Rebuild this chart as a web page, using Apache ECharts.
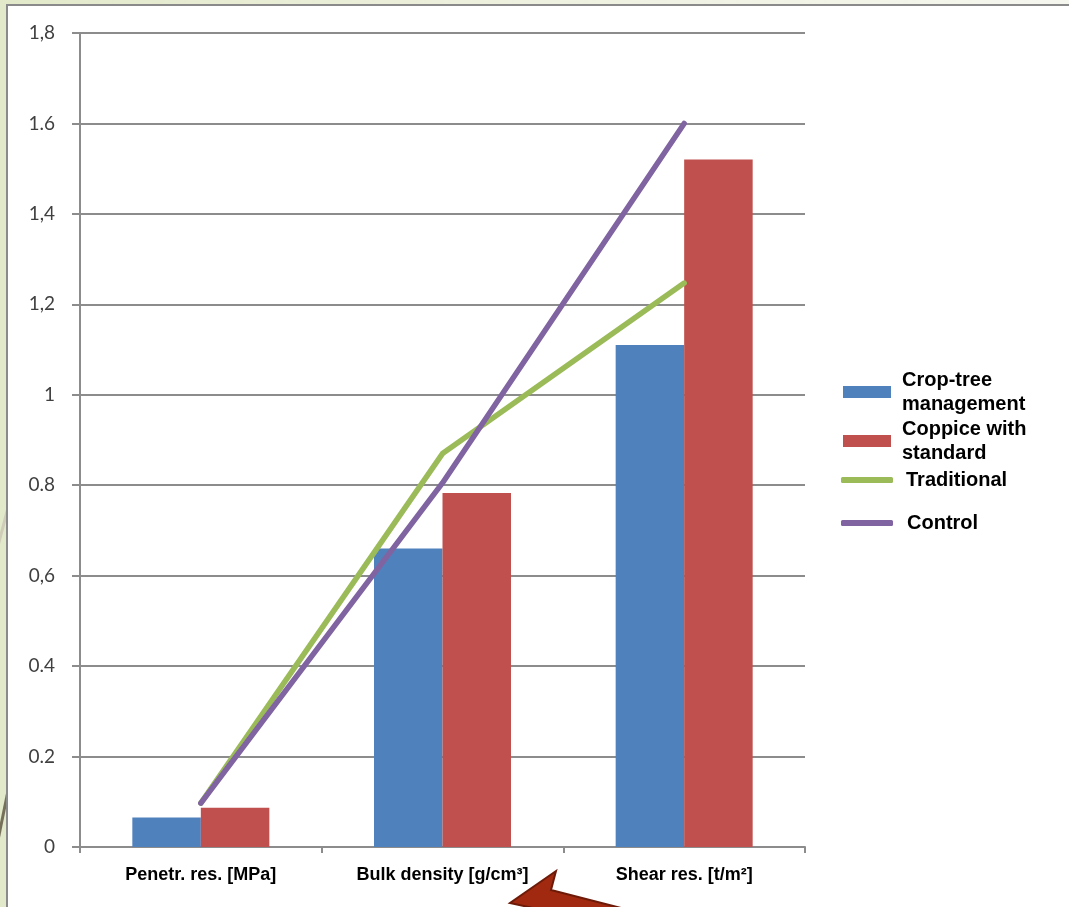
<!DOCTYPE html>
<html>
<head>
<meta charset="utf-8">
<script src="https://cdn.jsdelivr.net/npm/echarts@6/dist/echarts.min.js"></script>
<style>
html,body{margin:0;padding:0;background:#e3e9cc;}
#chart{width:1069px;height:907px;}
</style>
</head>
<body>
<div id="chart"></div>
<script>
const categories = ['Penetr. res. [MPa]', 'Bulk density [g/cm\u00b3]', 'Shear res. [t/m\u00b2]'];
const cropTree = [0.065, 0.66, 1.11];
const coppice = [0.087, 0.783, 1.52];
const traditional = [0.097, 0.87, 1.247];
const control = [0.097, 0.805, 1.6];
const yTickLabels = ['0', '0.2', '0.4', '0,6', '0.8', '1', '1,2', '1,4', '1.6', '1,8'];
const seriesNames = ['Crop-tree management', 'Coppice with standard', 'Traditional', 'Control'];
const legendLabels = {
  'Crop-tree management': 'Crop-tree\nmanagement',
  'Coppice with standard': 'Coppice with\nstandard',
  'Traditional': 'Traditional',
  'Control': 'Control'
};

const chart = echarts.init(document.getElementById('chart'), null, {renderer: 'canvas'});
const gridColor = '#8c8c8c';

function mkLegend(name, left, top, w, h, pad, icon) {
  const lg = {
    data: [{name: name, icon: icon}], orient: 'vertical', left: left, top: top,
    itemWidth: w, itemHeight: h, itemGap: 0, padding: 0,
    selectedMode: false,
    formatter: n => legendLabels[n],
    textStyle: {color: '#000', fontFamily: 'Liberation Sans, Arial, sans-serif', fontWeight: 'bold',
      fontSize: 20, lineHeight: 24, padding: [0, 0, 0, pad]}
  };
  return lg;
}

const option = {
  backgroundColor: {
    type: 'linear', x: 0, y: 0, x2: 1, y2: 0,
    colorStops: [{offset: 0, color: '#e2e9ca'}, {offset: 0.5, color: '#eef1df'}, {offset: 1, color: '#f5f6ee'}]
  },
  animation: false,
  graphic: [
    {type: 'line', z: -20, shape: {x1: 9, y1: 786, x2: -2, y2: 840}, style: {stroke: '#76705a', lineWidth: 3}},
    {type: 'line', z: -20, shape: {x1: 9, y1: 504, x2: -2, y2: 546}, style: {stroke: '#cfcdb8', lineWidth: 3}},
    {type: 'rect', z: -10, shape: {x: 7, y: 5, width: 1080, height: 920}, style: {fill: '#ffffff', stroke: '#8a8a8a', lineWidth: 2}},
    {type: 'polygon', z: 100, shape: {points: [[556, 871], [551, 890], [660, 918], [600, 930], [533, 908], [510, 903]]},
     style: {fill: '#a1290f', stroke: '#6e1a08', lineWidth: 2}}
  ],
  grid: {left: 80, right: 264, top: 33, bottom: 60, containLabel: false},
  legend: [
    mkLegend(seriesNames[0], 843, 368, 48, 12, 6, 'rect'),
    mkLegend(seriesNames[1], 843, 417, 48, 12, 6, 'rect'),
    mkLegend(seriesNames[2], 841, 468, 52, 6, 8, 'roundRect'),
    mkLegend(seriesNames[3], 841, 511, 52, 6, 9, 'roundRect')
  ],
  xAxis: {
    type: 'category', data: categories,
    axisLine: {lineStyle: {color: gridColor, width: 2}},
    axisTick: {show: true, alignWithLabel: false, length: 6, lineStyle: {color: gridColor, width: 2}},
    axisLabel: {margin: 19, color: '#000', fontFamily: 'Liberation Sans, Arial, sans-serif', fontWeight: 'bold', fontSize: 18, interval: 0},
    splitLine: {show: false}
  },
  yAxis: {
    type: 'value', min: 0, max: 1.8, interval: 0.2,
    axisLine: {show: true, lineStyle: {color: gridColor, width: 2}},
    axisTick: {show: true, length: 8, lineStyle: {color: gridColor, width: 2}},
    axisLabel: {margin: 25, color: '#404040', fontFamily: 'Lato, sans-serif', fontSize: 19,
      formatter: v => yTickLabels[Math.round(v / 0.2)]},
    splitLine: {show: true, lineStyle: {color: gridColor, width: 2}}
  },
  series: [
    {name: seriesNames[0], type: 'bar', data: cropTree, barWidth: 68.5, barGap: '0%', itemStyle: {color: '#4f81bd'}, z: 2},
    {name: seriesNames[1], type: 'bar', data: coppice, barWidth: 68.5, barGap: '0%', itemStyle: {color: '#c0504d'}, z: 2},
    {name: seriesNames[2], type: 'line', data: traditional, symbol: 'none', showSymbol: false,
      lineStyle: {color: '#9bbb59', width: 5.5, cap: 'round', join: 'round'}, itemStyle: {color: '#9bbb59'}, z: 3},
    {name: seriesNames[3], type: 'line', data: control, symbol: 'none', showSymbol: false,
      lineStyle: {color: '#8064a2', width: 5.5, cap: 'round', join: 'round'}, itemStyle: {color: '#8064a2'}, z: 4}
  ]
};
chart.setOption(option);
</script>
</body>
</html>
